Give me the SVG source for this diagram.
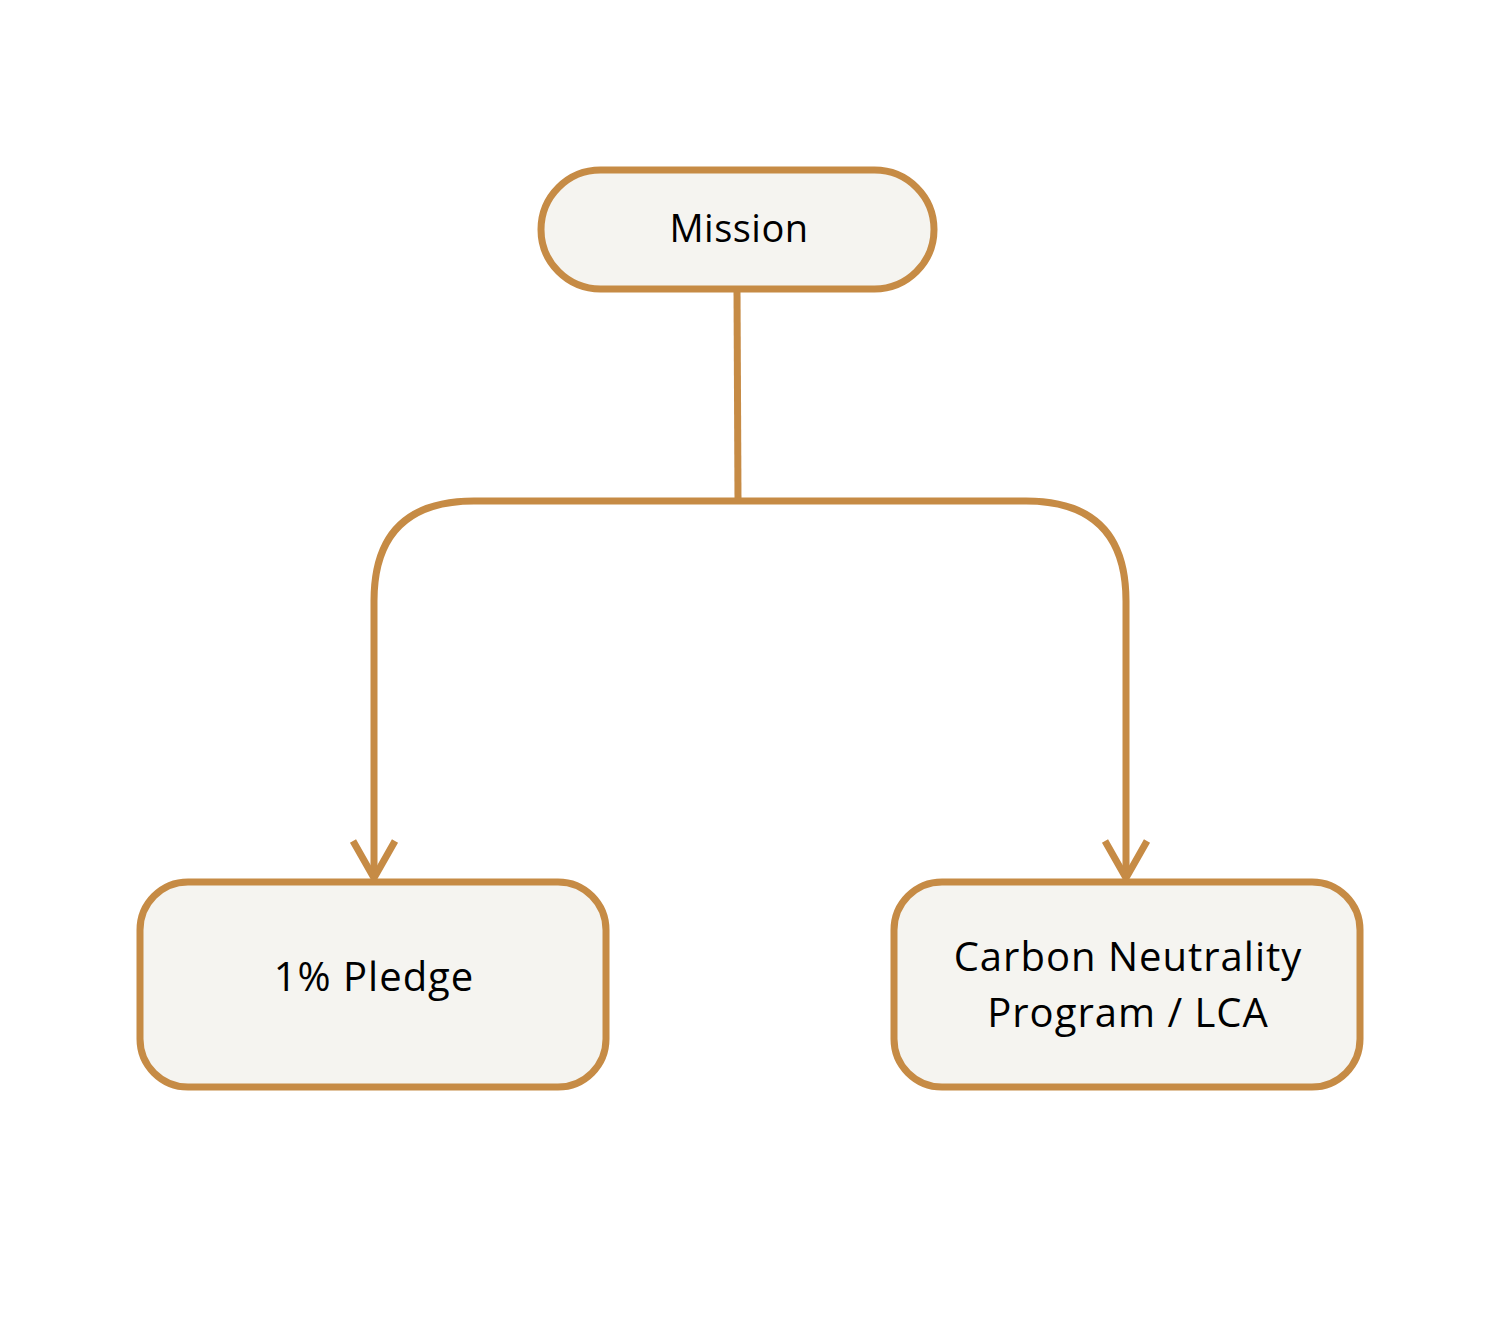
<svg xmlns="http://www.w3.org/2000/svg" width="1510" height="1324" viewBox="0 0 1510 1324">
<style>
.node{fill:#F5F4F0;stroke:#C68B45;stroke-width:7}
.edge{fill:none;stroke:#C68B45;stroke-width:7}
.lbl{font-family:"Open Sans","Liberation Sans",sans-serif;font-size:40px;letter-spacing:1px;fill:#000;text-anchor:middle}
.sm{font-size:38px;letter-spacing:0.5px}
</style>
<rect width="1510" height="1324" fill="#FFFFFF"/>
<g id="connectors">
<path class="edge" d="M737,289 L738,501"/>
<path class="edge" d="M738,501 L474,501 Q374,501 374,601 L374,878"/>
<path class="edge" d="M738,501 L1026,501 Q1126,501 1126,601 L1126,878"/>
<path class="edge" d="M353,841 L374,878 L395,841"/>
<path class="edge" d="M1105,841 L1126,878 L1147,841"/>
</g>
<g id="mission">
<rect class="node" x="541" y="170" width="393" height="119" rx="59.5"/>
<text class="lbl sm" x="739" y="242">Mission</text>
</g>
<g id="pledge">
<rect class="node" x="140" y="882" width="466" height="205" rx="48"/>
<text class="lbl" x="374" y="991">1% Pledge</text>
</g>
<g id="carbon">
<rect class="node" x="894" y="882" width="466" height="205" rx="48"/>
<text class="lbl" x="1128" y="971">Carbon Neutrality</text>
<text class="lbl" x="1128" y="1027">Program / LCA</text>
</g>
</svg>
